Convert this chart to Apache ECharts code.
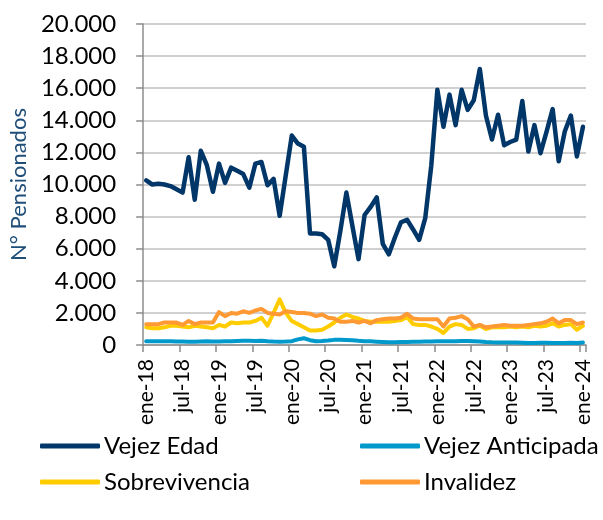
<!DOCTYPE html>
<html>
<head>
<meta charset="utf-8">
<script src="https://cdn.jsdelivr.net/npm/echarts@6/dist/echarts.min.js"></script>
<style>
html,body{margin:0;padding:0;background:#fff;}
#chart{width:603px;height:520px;}
</style>
</head>
<body>
<div id="chart"></div>
<script>
// ---- Data ----
const monthNames = ['ene','feb','mar','abr','may','jun','jul','ago','sep','oct','nov','dic'];
const years = ['18','19','20','21','22','23','24'];
const categories = [];
years.forEach(y => monthNames.forEach(m => categories.push(m + '-' + y)));
categories.length = 73; // ene-18 .. ene-24

const yTicks = [0, 2000, 4000, 6000, 8000, 10000, 12000, 14000, 16000, 18000, 20000];

const vejezEdad = [
  10250,10000,10050,10000,9900,9700,9500,11700,9050,12100,11200,9550,
  11300,10100,11050,10850,10650,9800,11300,11400,9950,10350,8050,10550,
  13050,12550,12350,6950,6950,6900,6550,4900,7100,9500,7400,5350,
  8100,8600,9200,6300,5650,6700,7650,7800,7200,6550,7900,11200,
  15900,13600,15600,13700,15900,14650,15250,17200,14300,12800,14350,12450,
  12650,12800,15200,12050,13700,11950,13300,14700,11450,13300,14300,11750,
  13600
];
const vejezAnticipada = [
  230,240,230,230,230,220,220,210,210,220,230,220,
  220,230,240,250,260,260,250,270,240,220,210,220,
  240,350,420,300,230,250,280,320,330,310,290,260,
  240,230,210,190,170,170,180,190,200,210,220,220,
  230,240,240,240,250,250,240,220,190,170,160,150,
  150,150,140,130,130,140,140,130,130,130,140,130,
  160
];
const sobrevivencia = [
  1100,1050,1050,1100,1200,1200,1150,1100,1200,1150,1100,1050,
  1250,1150,1400,1350,1400,1400,1500,1700,1200,2000,2850,2000,
  1500,1300,1100,900,900,950,1150,1400,1700,1900,1750,1650,
  1500,1450,1450,1450,1450,1500,1550,1750,1300,1250,1250,1150,
  1000,750,1150,1300,1250,1000,1050,1200,1000,1100,1100,1100,
  1150,1100,1150,1100,1200,1150,1200,1350,1150,1250,1300,950,
  1200
];
const invalidez = [
  1300,1300,1300,1400,1400,1400,1250,1500,1300,1400,1400,1400,
  2050,1800,2000,1950,2100,2000,2150,2250,2000,1950,1900,2100,
  2050,2000,2000,1950,1800,1900,1700,1650,1450,1450,1500,1400,
  1500,1350,1550,1600,1650,1650,1700,1950,1650,1600,1600,1600,
  1600,1150,1650,1700,1800,1600,1150,1250,1100,1150,1200,1250,
  1200,1200,1200,1250,1300,1350,1450,1650,1350,1550,1550,1300,
  1400
];

const seriesNames = ['Vejez Edad','Vejez Anticipada','Sobrevivencia','Invalidez'];
const seriesColors = ['#013668','#0099CC','#FFCC00','#FF9933'];
const seriesData = [vejezEdad, vejezAnticipada, sobrevivencia, invalidez];

// ---- Chart ----
const FONT = 'Lato';
const chart = echarts.init(document.getElementById('chart'), null, {renderer:'canvas'});

function fmtThousands(v){
  return String(v).replace(/\B(?=(\d{3})+(?!\d))/g, '.');
}

const legendPos = [
  {left: 40, top: 434},
  {left: 360, top: 434},
  {left: 40, top: 470},
  {left: 360, top: 470}
];

const option = {
  animation: false,
  backgroundColor: '#fff',
  textStyle: {fontFamily: FONT},
  grid: {left: 140, right: 17, top: 24, bottom: 175, containLabel: false},
  legend: seriesNames.map((n, k) => ({
    data: [n],
    left: legendPos[k].left,
    top: legendPos[k].top,
    icon: 'roundRect',
    itemWidth: 60,
    itemHeight: 5,
    itemGap: 4,
    padding: 0,
    textStyle: {fontFamily: FONT, fontSize: 24, color: '#000', padding: [0,0,0,-1]}
  })),
  xAxis: {
    type: 'category',
    data: categories,
    boundaryGap: true,
    axisLine: {show: true, lineStyle: {color: '#8C8C8C', width: 1.5}},
    axisTick: {show: true, interval: 5, length: 7, lineStyle: {color: '#8C8C8C', width: 1.5}},
    axisLabel: {
      interval: 5, rotate: 90, margin: 14,
      fontFamily: FONT, fontSize: 21, color: '#000'
    },
    splitLine: {show: false}
  },
  yAxis: {
    type: 'value',
    min: yTicks[0], max: yTicks[yTicks.length-1], interval: 2000,
    name: 'N° Pensionados',
    nameLocation: 'middle',
    nameGap: 105,
    nameRotate: 90,
    nameTextStyle: {fontFamily: FONT, fontSize: 22, color: '#1F4E79'},
    axisLine: {show: true, lineStyle: {color: '#8C8C8C', width: 1.5}},
    axisTick: {show: true, length: 7, lineStyle: {color: '#8C8C8C', width: 1.5}},
    axisLabel: {
      margin: 27, fontFamily: FONT, fontSize: 24, color: '#000',
      formatter: v => fmtThousands(v)
    },
    splitLine: {show: true, lineStyle: {color: '#C0C0C0', width: 1.5}}
  },
  series: seriesNames.map((n, k) => ({
    name: n,
    type: 'line',
    data: seriesData[k],
    symbol: 'none',
    showSymbol: false,
    color: seriesColors[k],
    lineStyle: {color: seriesColors[k], width: k === 0 ? 4.5 : 4, join: 'round', cap: 'round'},
    z: 2 + k
  }))
};
chart.setOption(option);
</script>
</body>
</html>
